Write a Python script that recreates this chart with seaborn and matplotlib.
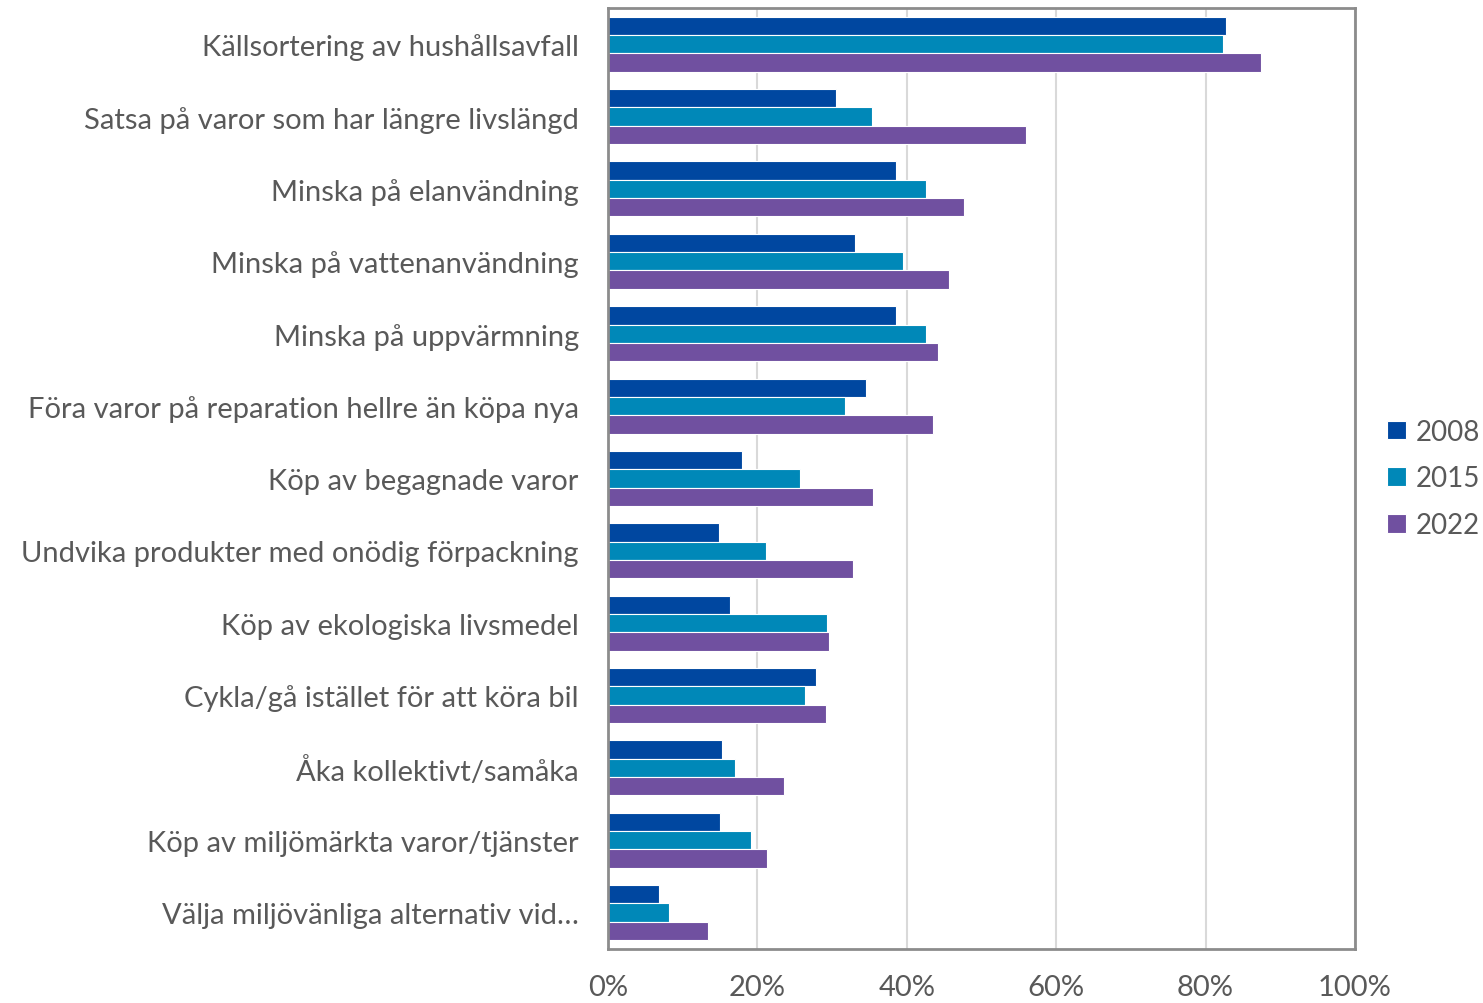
import pandas as pd
import seaborn as sns
import matplotlib.pyplot as plt
from matplotlib.ticker import PercentFormatter

# Data (percent)
categories = [
    "Källsortering av hushållsavfall",
    "Satsa på varor som har längre livslängd",
    "Minska på elanvändning",
    "Minska på vattenanvändning",
    "Minska på uppvärmning",
    "Föra varor på reparation hellre än köpa nya",
    "Köp av begagnade varor",
    "Undvika produkter med onödig förpackning",
    "Köp av ekologiska livsmedel",
    "Cykla/gå istället för att köra bil",
    "Åka kollektivt/samåka",
    "Köp av miljömärkta varor/tjänster",
    "Välja miljövänliga alternativ vid…",
]
years = ["2008", "2015", "2022"]
v2008 = [82.7, 30.5, 38.6, 33.1, 38.6, 34.5, 17.9, 14.9, 16.3, 27.8, 15.3, 15.0, 6.8]
v2015 = [82.3, 35.3, 42.6, 39.5, 42.6, 31.7, 25.7, 21.2, 29.3, 26.4, 17.0, 19.1, 8.2]
v2022 = [87.4, 56.0, 47.7, 45.6, 44.2, 43.5, 35.5, 32.8, 29.6, 29.2, 23.6, 21.3, 13.4]
colors = ["#0047A0", "#0088B8", "#7050A0"]

df = pd.DataFrame({
    "kategori": categories * 3,
    "andel": v2008 + v2015 + v2022,
    "år": [y for y in years for _ in categories],
})

sns.set_theme(style="white")
plt.rcParams["font.family"] = ["Lato", "DejaVu Sans"]

fig = plt.figure(figsize=(14.83, 10.04), dpi=100)
ax = fig.add_axes([0.41, 0.054, 0.5037, 0.937])

sns.barplot(data=df, y="kategori", x="andel", hue="år", order=categories,
            hue_order=years, palette=colors, saturation=1, orient="h",
            width=0.76, edgecolor="white", linewidth=0.8, ax=ax)

ax.set_xlim(0, 100)
ax.set_xticks(range(0, 101, 20))
ax.xaxis.set_major_formatter(PercentFormatter(decimals=0))
ax.grid(axis="x", color="#d9d9d9", linewidth=1.5)
ax.set_axisbelow(True)
ax.set_xlabel("")
ax.set_ylabel("")
ax.tick_params(axis="x", labelsize=21, labelcolor="#595959", pad=18, length=0)
ax.tick_params(axis="y", labelsize=21, labelcolor="#595959", pad=21, length=0)
for s in ax.spines.values():
    s.set_color("#8c8c8c")
    s.set_linewidth(2)

handles, labels = ax.get_legend_handles_labels()
ax.legend(handles, labels, loc="center left", bbox_to_anchor=(1.01, 0.5),
          frameon=False, fontsize=20, labelcolor="#595959",
          handlelength=0.65, handleheight=0.65, handletextpad=0.35,
          labelspacing=0.75)

fig.savefig("out.png", dpi=100)
